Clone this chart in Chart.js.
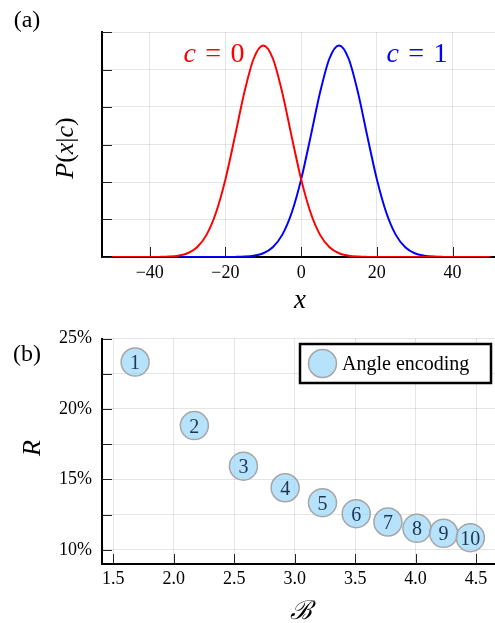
<!DOCTYPE html>
<html>
<head>
<meta charset="utf-8">
<script src="https://cdn.jsdelivr.net/npm/chart.js@4"></script>
<style>
  html, body { margin: 0; padding: 0; background: #fff; overflow: hidden; }
  canvas { position: absolute; left: 0; }
  #dist { top: 0; }
  #rate { top: 320px; }
</style>
</head>
<body>
<canvas id="dist" width="495" height="320"></canvas>
<canvas id="rate" width="495" height="303"></canvas>
<script>
// panel (a): conditional densities
const xs = [-50, -47.5, -45, -42.5, -40, -37.5, -35, -32.5, -30, -27.5, -25, -22.5, -20, -17.5, -15, -12.5,
  -10, -7.5, -5, -2.5, 0, 2.5, 5, 7.5, 10, 12.5, 15, 17.5, 20, 22.5, 25, 27.5, 30, 32.5, 35, 37.5, 40, 42.5, 45, 47.5, 50];
const pRed = [0, 0, 0, 0, 0, 0.00003, 0.00011, 0.00036, 0.0010, 0.0026, 0.0059, 0.0118, 0.0207, 0.0321, 0.0439, 0.0530,
  0.0564, 0.0530, 0.0439, 0.0321, 0.0207, 0.0118, 0.0059, 0.0026, 0.0010, 0.00036, 0.00011, 0.00003,
  0, 0, 0, 0, 0, 0, 0, 0, 0, 0, 0, 0, 0];
const pBlue = [0, 0, 0, 0, 0, 0, 0, 0, 0, 0, 0, 0, 0, 0.00003, 0.00011, 0.00036, 0.0010, 0.0026, 0.0059, 0.0118,
  0.0207, 0.0321, 0.0439, 0.0530, 0.0564, 0.0530, 0.0439, 0.0321, 0.0207, 0.0118, 0.0059, 0.0026, 0.0010,
  0.00036, 0.00011, 0.00003, 0, 0, 0, 0, 0];

// panel (b): error rate vs B
const bValues = [1.680, 2.170, 2.576, 2.921, 3.230, 3.509, 3.771, 4.011, 4.232, 4.453];
const rValues = [23.33, 18.82, 15.94, 14.41, 13.35, 12.57, 11.98, 11.53, 11.18, 10.87];
const pointLabels = ['1', '2', '3', '4', '5', '6', '7', '8', '9', '10'];

const serif = '"Liberation Serif", "DejaVu Serif", serif';
const gridColor = 'rgba(0,0,0,0.1)';
Chart.defaults.font.family = serif;
Chart.defaults.color = '#000';

// draws text made of upright / italic pieces, centred on x
function drawRuns(ctx, runs, x, y, size, color, rot) {
    ctx.save();
    ctx.translate(x, y);
    if (rot) ctx.rotate(rot);
    ctx.fillStyle = color;
    ctx.textBaseline = 'alphabetic';
    ctx.textAlign = 'left';
    let total = 0;
    runs.forEach(r => {
        ctx.font = (r.i ? 'italic ' : '') + size + 'px ' + serif;
        total += ctx.measureText(r.t).width;
    });
    let cx = -total / 2;
    runs.forEach(r => {
        ctx.font = (r.i ? 'italic ' : '') + size + 'px ' + serif;
        ctx.fillText(r.t, cx, 0);
        cx += ctx.measureText(r.t).width;
    });
    ctx.restore();
}

// fixed axis sizes, no extra padding for edge labels
function fixX(h) {
    return s => { s.height = h; s.paddingLeft = 0; s.paddingRight = 0; };
}
function fixY(w) {
    return s => { s.width = w; s.paddingTop = 0; s.paddingBottom = 0; };
}

// tick marks pointing into the plot
const innerTicks = {
    id: 'innerTicks',
    beforeDatasetsDraw(chart) {
        const { ctx, chartArea: a, scales: { x, y } } = chart;
        ctx.save();
        ctx.strokeStyle = '#222';
        ctx.lineWidth = 1;
        ctx.beginPath();
        x.ticks.forEach((t, i) => {
            const px = Math.round(x.getPixelForTick(i)) + 0.5;
            ctx.moveTo(px, a.bottom);
            ctx.lineTo(px, a.bottom - 10);
        });
        y.ticks.forEach((t, i) => {
            const py = Math.round(y.getPixelForTick(i)) + 0.5;
            ctx.moveTo(a.left, py);
            ctx.lineTo(a.left + 10, py);
        });
        ctx.stroke();
        ctx.restore();
    }
};

const textA = {
    id: 'textA',
    afterDraw(chart) {
        const ctx = chart.ctx;
        drawRuns(ctx, [{ t: '(a)' }], 27, 27, 24, '#000');
        drawRuns(ctx, [{ t: 'P', i: 1 }, { t: '(' }, { t: 'x', i: 1 }, { t: '|' }, { t: 'c', i: 1 }, { t: ')' }], 73, 148, 26, '#000', -Math.PI / 2);
        drawRuns(ctx, [{ t: 'x', i: 1 }], 300, 308, 27, '#000');
        drawRuns(ctx, [{ t: 'c', i: 1 }, { t: '\u2004=\u20040' }], 214, 61.5, 28, '#ff0000');
        drawRuns(ctx, [{ t: 'c', i: 1 }, { t: '\u2004=\u20041' }], 417, 61.5, 28, '#0000ff');
    }
};

const textB = {
    id: 'textB',
    afterDatasetsDraw(chart) {
        const ctx = chart.ctx;
        const meta = chart.getDatasetMeta(0);
        ctx.save();
        ctx.fillStyle = '#1d3550';
        ctx.font = '20px ' + serif;
        ctx.textAlign = 'center';
        ctx.textBaseline = 'alphabetic';
        meta.data.forEach((pt, i) => ctx.fillText(pointLabels[i], pt.x, pt.y + 7));
        ctx.restore();
    },
    afterDraw(chart) {
        const ctx = chart.ctx;
        const a = chart.chartArea;
        const ds = chart.data.datasets[0];
        drawRuns(ctx, [{ t: '(b)' }], 27, 41, 24, '#000');
        drawRuns(ctx, [{ t: 'R', i: 1 }], 39.5, 128, 26, '#000', -Math.PI / 2);
        drawRuns(ctx, [{ t: '\u212C', i: 1 }], 301, 299, 26, '#000');
        // legend box
        const w = 191, h = 39;
        const bx = a.right - 4 - w, by = a.top + 5.5;
        ctx.save();
        ctx.fillStyle = '#fff';
        ctx.fillRect(bx, by, w, h);
        ctx.strokeStyle = '#000';
        ctx.lineWidth = 2.5;
        ctx.strokeRect(bx, by, w, h);
        ctx.beginPath();
        ctx.arc(bx + 22.5, by + h / 2, 14, 0, Math.PI * 2);
        ctx.fillStyle = ds.backgroundColor;
        ctx.fill();
        ctx.lineWidth = ds.borderWidth;
        ctx.strokeStyle = ds.borderColor;
        ctx.stroke();
        ctx.fillStyle = '#000';
        ctx.font = '20px ' + serif;
        ctx.textBaseline = 'middle';
        ctx.fillText(ds.label, bx + 42, by + h / 2 + 1);
        ctx.restore();
    }
};

new Chart(document.getElementById('dist'), {
    type: 'line',
    data: {
        datasets: [
            {
                label: 'c = 0',
                data: xs.map((x, i) => ({ x: x, y: pRed[i] })),
                borderColor: '#ff0000',
                borderWidth: 2,
                pointRadius: 0,
                fill: false,
                cubicInterpolationMode: 'monotone'
            },
            {
                label: 'c = 1',
                data: xs.map((x, i) => ({ x: x, y: pBlue[i] })),
                borderColor: '#0000ff',
                borderWidth: 2,
                pointRadius: 0,
                fill: false,
                cubicInterpolationMode: 'monotone'
            }
        ]
    },
    options: {
        responsive: false,
        animation: false,
        events: [],
        layout: { autoPadding: false, padding: { top: 32, right: 0, bottom: 0, left: 0 } },
        plugins: { legend: { display: false }, tooltip: { enabled: false } },
        scales: {
            x: {
                type: 'linear',
                min: -52.6,
                max: 51.2,
                afterFit: fixX(63),
                grid: { color: gridColor, drawTicks: false },
                border: { color: '#000', width: 2 },
                ticks: {
                    stepSize: 20,
                    includeBounds: false,
                    padding: 5,
                    font: { size: 18 },
                    callback: v => (v < 0 ? '\u2212' + Math.abs(v) : String(v))
                }
            },
            y: {
                min: 0,
                max: 0.06,
                afterFit: fixY(102),
                grid: { color: gridColor, drawTicks: false },
                border: { color: '#000', width: 2 },
                ticks: { stepSize: 0.01, display: false }
            }
        }
    },
    plugins: [innerTicks, textA]
});

new Chart(document.getElementById('rate'), {
    type: 'scatter',
    data: {
        datasets: [{
            label: 'Angle encoding',
            data: bValues.map((b, i) => ({ x: b, y: rValues[i] })),
            backgroundColor: 'rgba(135,206,250,0.6)',
            borderColor: '#a6a6a6',
            borderWidth: 1.5,
            pointRadius: 14,
            clip: false
        }]
    },
    options: {
        responsive: false,
        animation: false,
        events: [],
        layout: { autoPadding: false, padding: { top: 18.5, right: 0, bottom: 0, left: 0 } },
        plugins: { legend: { display: false }, tooltip: { enabled: false } },
        scales: {
            x: {
                type: 'linear',
                min: 1.406,
                max: 4.657,
                afterFit: fixX(59),
                grid: { color: gridColor, drawTicks: false },
                border: { color: '#000', width: 2 },
                ticks: {
                    stepSize: 0.5,
                    includeBounds: false,
                    padding: 4,
                    font: { size: 18 },
                    callback: v => v.toFixed(1)
                }
            },
            y: {
                min: 9.0,
                max: 25,
                afterFit: fixY(102),
                grid: { color: gridColor, drawTicks: false },
                border: { color: '#000', width: 2 },
                ticks: {
                    stepSize: 2.5,
                    includeBounds: false,
                    padding: 10,
                    font: { size: 18 },
                    callback: v => (v % 5 === 0 ? v + '%' : '')
                }
            }
        }
    },
    plugins: [innerTicks, textB]
});
</script>
</body>
</html>
